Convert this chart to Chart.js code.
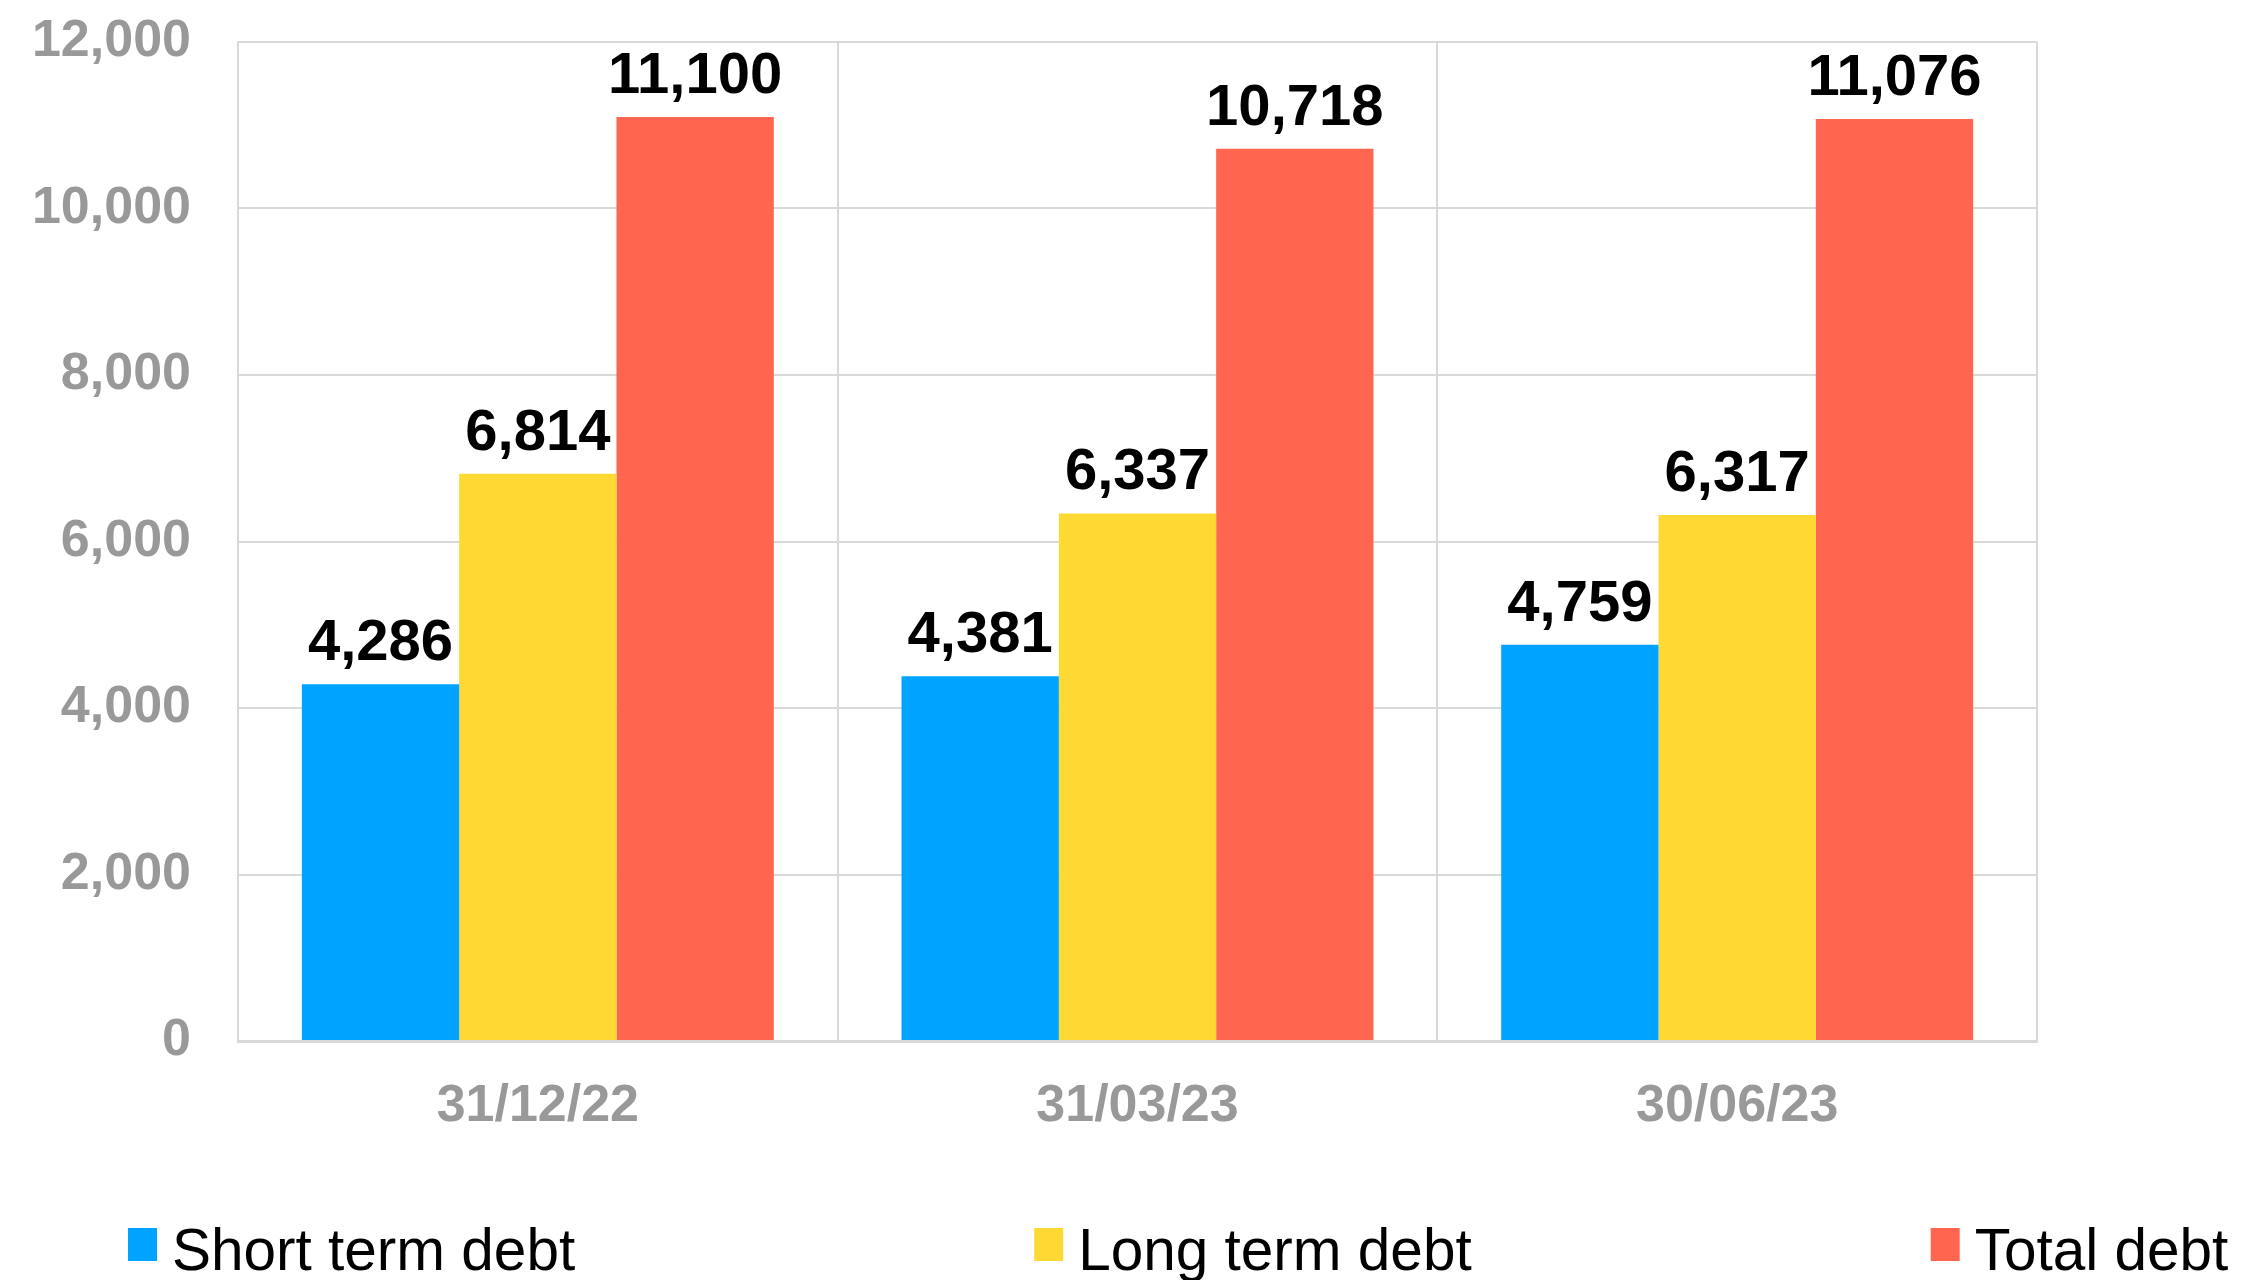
<!DOCTYPE html>
<html>
<head>
<meta charset="utf-8">
<script src="https://cdn.jsdelivr.net/npm/chart.js@4/dist/chart.umd.min.js"></script>
<style>
  html, body { margin: 0; padding: 0; background: #ffffff; }
  #wrap { width: 2249px; height: 1280px; position: relative; }
</style>
</head>
<body>
<div id="wrap"><canvas id="c" width="2249" height="1280"></canvas></div>
<script>
const categories = ['31/12/22', '31/03/23', '30/06/23'];
const shortTermDebt = [4286, 4381, 4759];
const longTermDebt = [6814, 6337, 6317];
const totalDebt = [11100, 10718, 11076];
const seriesNames = ['Short term debt', 'Long term debt', 'Total debt'];
const seriesColors = ['#00A3FF', '#FED833', '#FF654F'];
const yTicks = [0, 2000, 4000, 6000, 8000, 10000, 12000];

const FONT = '"Liberation Sans", Arial, sans-serif';

const valueLabels = {
  id: 'valueLabels',
  afterDatasetsDraw(chart) {
    const ctx = chart.ctx;
    ctx.save();
    ctx.font = 'bold 58px ' + FONT;
    ctx.fillStyle = '#000000';
    ctx.textAlign = 'center';
    ctx.textBaseline = 'alphabetic';
    chart.data.datasets.forEach((ds, di) => {
      const meta = chart.getDatasetMeta(di);
      meta.data.forEach((bar, i) => {
        ctx.fillText(ds.data[i].toLocaleString('en-US'), bar.x, bar.y - 24);
      });
    });
    ctx.restore();
  }
};

const customLegend = {
  id: 'customLegend',
  afterDraw(chart) {
    const ctx = chart.ctx;
    ctx.save();
    ctx.font = '58.5px ' + FONT;
    ctx.textBaseline = 'alphabetic';
    ctx.textAlign = 'left';
    let x = 128;
    const baseline = 1270;
    chart.data.datasets.forEach((ds) => {
      ctx.fillStyle = ds.backgroundColor;
      ctx.fillRect(x, baseline - 42, 29, 33);
      ctx.fillStyle = '#000000';
      const tx = x + 44;
      ctx.fillText(ds.label, tx, baseline);
      x = tx + ctx.measureText(ds.label).width + 459;
    });
    ctx.restore();
  }
};

new Chart(document.getElementById('c'), {
  type: 'bar',
  data: {
    labels: categories,
    datasets: [
      { label: seriesNames[0], data: shortTermDebt, backgroundColor: seriesColors[0] },
      { label: seriesNames[1], data: longTermDebt, backgroundColor: seriesColors[1] },
      { label: seriesNames[2], data: totalDebt, backgroundColor: seriesColors[2] }
    ]
  },
  options: {
    responsive: false,
    animation: false,
    devicePixelRatio: 1,
    layout: { padding: { left: 32, right: 212, top: 42, bottom: 145 } },
    datasets: { bar: { barPercentage: 1.0, categoryPercentage: 0.787, borderWidth: 0 } },
    plugins: {
      legend: { display: false },
      tooltip: { enabled: false }
    },
    scales: {
      x: {
        afterFit(axis) { axis.height = 94; axis.paddingLeft = 0; axis.paddingRight = 0; },
        grid: { offset: true, color: '#D9D9D9', lineWidth: 2, drawTicks: false },
        border: { color: '#D9D9D9', width: 3 },
        ticks: { color: '#999999', font: { family: FONT, size: 52, weight: 'bold' }, padding: 34 }
      },
      y: {
        min: 0, max: 12000,
        afterFit(axis) { axis.width = 206; axis.paddingTop = 0; axis.paddingBottom = 0; },
        afterBuildTicks(axis) { axis.ticks = yTicks.map(v => ({ value: v })); },
        grid: { color: '#D9D9D9', lineWidth: 2, drawTicks: false },
        border: { color: '#D9D9D9', width: 2 },
        ticks: {
          color: '#999999', font: { family: FONT, size: 52, weight: 'bold' }, padding: 47,
          callback: v => v.toLocaleString('en-US')
        }
      }
    }
  },
  plugins: [valueLabels, customLegend]
});
</script>
</body>
</html>
